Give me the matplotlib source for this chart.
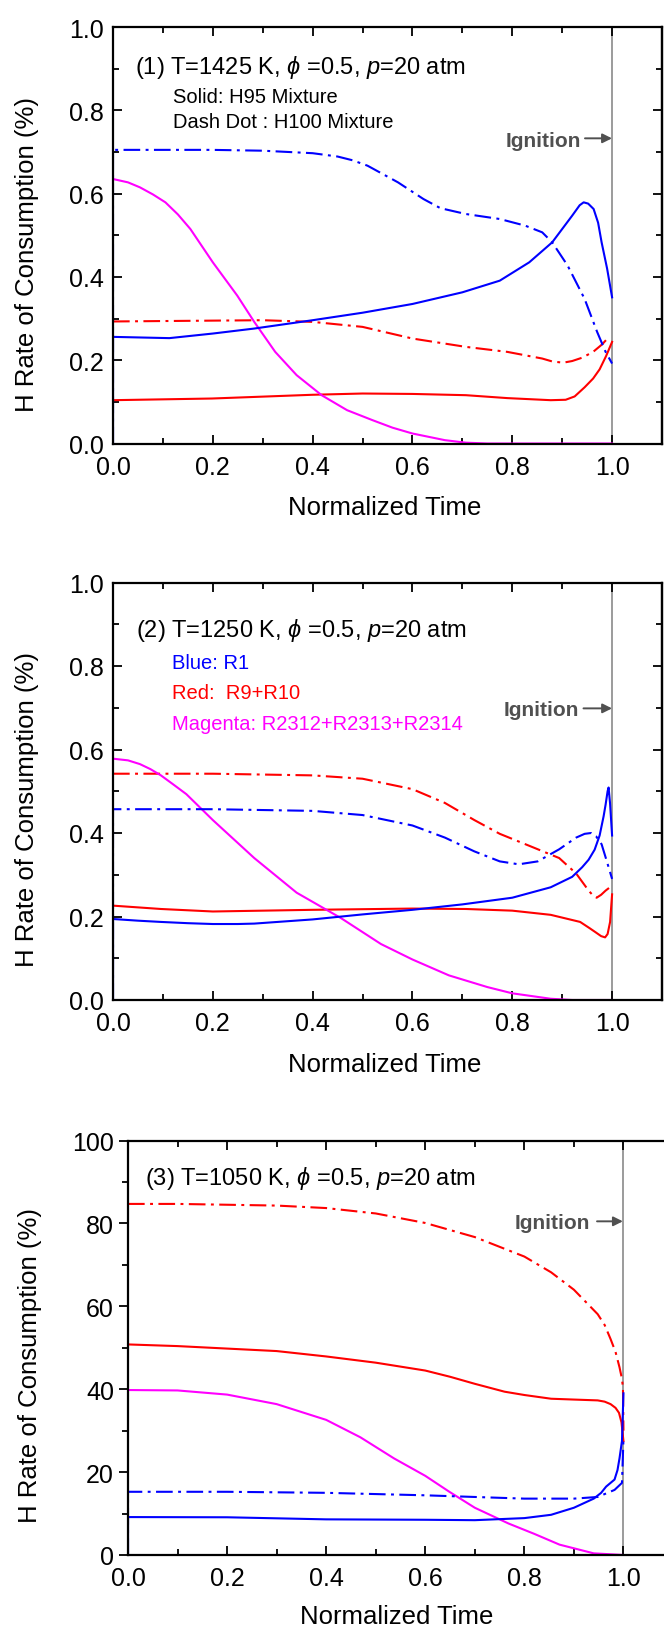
import matplotlib
matplotlib.use("Agg")
import matplotlib.pyplot as plt
from matplotlib.ticker import MultipleLocator

plt.rcParams['font.family'] = ['Liberation Sans', 'DejaVu Sans']
plt.rcParams['mathtext.fontset'] = 'custom'
plt.rcParams['mathtext.rm'] = 'Liberation Sans'
plt.rcParams['mathtext.it'] = 'Liberation Sans:italic'
plt.rcParams['mathtext.fallback'] = 'stix'

BLUE, RED, MAGENTA = '#0000ff', '#ff0000', '#ff00ff'
DASHDOT = (0, (8, 2.6, 1.4, 2.6))

# ---------------- panel 1 : T=1425 K ----------------
p1_blue_t = [0, 0, 0.113, 0.2, 0.283, 0.40, 0.50, 0.60, 0.70, 0.775, 0.834, 0.88, 0.90, 0.92, 0.935,
             0.943, 0.952, 0.963, 0.972, 0.979, 0.99, 1.0]
p1_blue_v = [0, 0.256, 0.253, 0.264, 0.276, 0.296, 0.314, 0.335, 0.363, 0.391, 0.435, 0.483, 0.515, 0.547, 0.572,
             0.579, 0.576, 0.563, 0.530, 0.483, 0.420, 0.351]
p1_blue_dd_t = [0, 0, 0.198, 0.30, 0.40, 0.45, 0.48, 0.51, 0.571, 0.622, 0.656, 0.707, 0.775, 0.826, 0.86,
                0.88, 0.911, 0.945, 0.97, 0.987, 1.0]
p1_blue_dd_v = [0, 0.705, 0.705, 0.703, 0.697, 0.689, 0.680, 0.667, 0.627, 0.587, 0.565, 0.551, 0.539, 0.523,
                0.507, 0.483, 0.427, 0.347, 0.268, 0.220, 0.192]
p1_red_t = [0, 0.198, 0.40, 0.50, 0.60, 0.707, 0.79, 0.877, 0.907, 0.925, 0.945, 0.962, 0.975, 0.988, 1.0]
p1_red_v = [0.104, 0.108, 0.117, 0.120, 0.119, 0.116, 0.109, 0.104, 0.105, 0.113, 0.135, 0.156, 0.178, 0.210, 0.244]
p1_red_dd_t = [0, 0.198, 0.30, 0.40, 0.50, 0.60, 0.707, 0.79, 0.86, 0.88, 0.902, 0.92, 0.94, 0.962, 0.98, 0.993]
p1_red_dd_v = [0.293, 0.295, 0.296, 0.292, 0.280, 0.252, 0.232, 0.220, 0.204, 0.197, 0.194, 0.198, 0.206, 0.220,
               0.238, 0.255]
p1_mag_t = [0, 0.03, 0.054, 0.08, 0.105, 0.13, 0.155, 0.20, 0.249, 0.283, 0.325, 0.368, 0.418, 0.469, 0.52,
            0.56, 0.60, 0.665, 0.707, 0.75, 1.0]
p1_mag_v = [0.635, 0.627, 0.615, 0.598, 0.579, 0.550, 0.515, 0.435, 0.355, 0.292, 0.220, 0.164, 0.116, 0.080,
            0.056, 0.038, 0.024, 0.008, 0.002, 0.0, 0.0]

# ---------------- panel 2 : T=1250 K ----------------
p2_blue_t = [0, 0, 0.05, 0.096, 0.15, 0.2, 0.25, 0.283, 0.40, 0.50, 0.60, 0.70, 0.80, 0.877, 0.92, 0.94, 0.953,
             0.965, 0.975, 0.983, 0.987, 0.991, 0.993, 0.996, 1.0]
p2_blue_v = [0, 0.194, 0.190, 0.187, 0.184, 0.182, 0.182, 0.183, 0.193, 0.205, 0.216, 0.229, 0.245, 0.270, 0.295,
             0.318, 0.336, 0.360, 0.394, 0.440, 0.468, 0.500, 0.509, 0.470, 0.394]
p2_blue_dd_t = [0, 0, 0.2, 0.40, 0.50, 0.60, 0.665, 0.724, 0.775, 0.813, 0.851, 0.894, 0.928, 0.945, 0.958,
                0.968, 0.979, 0.99, 1.0]
p2_blue_dd_v = [0, 0.457, 0.457, 0.453, 0.443, 0.418, 0.389, 0.356, 0.332, 0.325, 0.332, 0.361, 0.389, 0.398,
                0.400, 0.392, 0.373, 0.330, 0.290]
p2_red_t = [0, 0.096, 0.2, 0.40, 0.60, 0.707, 0.80, 0.877, 0.936, 0.955, 0.966, 0.978, 0.986, 0.991, 0.996, 1.0]
p2_red_v = [0.226, 0.218, 0.212, 0.216, 0.219, 0.218, 0.214, 0.204, 0.187, 0.172, 0.163, 0.153, 0.150, 0.158,
            0.187, 0.253]
p2_red_dd_t = [0, 0.2, 0.40, 0.50, 0.60, 0.665, 0.724, 0.775, 0.843, 0.894, 0.928, 0.953, 0.962, 0.969, 0.978,
               0.987, 1.0]
p2_red_dd_v = [0.542, 0.542, 0.538, 0.530, 0.505, 0.472, 0.431, 0.398, 0.365, 0.340, 0.303, 0.262, 0.250, 0.245,
               0.252, 0.262, 0.274]
p2_mag_t = [0, 0.03, 0.054, 0.075, 0.096, 0.12, 0.147, 0.2, 0.283, 0.368, 0.457, 0.537, 0.60, 0.673, 0.75, 0.80,
            0.877, 0.92, 1.0]
p2_mag_v = [0.578, 0.574, 0.565, 0.553, 0.538, 0.517, 0.493, 0.431, 0.340, 0.257, 0.196, 0.134, 0.097, 0.059,
            0.031, 0.016, 0.003, 0.0, 0.0]

# ---------------- panel 3 : T=1050 K ----------------
p3_blue_t = [0, 0, 0.2, 0.4, 0.6, 0.70, 0.80, 0.854, 0.90, 0.94, 0.955, 0.965, 0.975, 0.982, 0.988, 0.992,
             0.997, 1.0]
p3_blue_v = [0, 9.15, 9.1, 8.6, 8.5, 8.4, 8.9, 9.7, 11.4, 13.6, 15.0, 16.5, 17.5, 18.2, 20.5, 23.3, 27.5, 39.0]
p3_blue_dd_t = [0, 0, 0.2, 0.4, 0.6, 0.7, 0.8, 0.9, 0.948, 0.982, 0.997, 1.0]
p3_blue_dd_v = [0, 15.25, 15.25, 15.0, 14.4, 14.0, 13.6, 13.6, 14.0, 15.7, 17.4, 28.0]
p3_red_t = [0, 0.1, 0.2, 0.3, 0.4, 0.5, 0.6, 0.65, 0.70, 0.76, 0.80, 0.854, 0.90, 0.948, 0.962, 0.974, 0.984,
            0.991, 0.996, 1.0]
p3_red_v = [50.8, 50.4, 49.8, 49.2, 47.9, 46.4, 44.5, 43.0, 41.3, 39.4, 38.6, 37.7, 37.5, 37.3, 37.0, 36.4, 35.5,
            34.3, 32.0, 27.5]
p3_red_dd_t = [0, 0.1, 0.2, 0.3, 0.4, 0.5, 0.6, 0.70, 0.80, 0.854, 0.90, 0.948, 0.962, 0.974, 0.984, 0.992,
               0.997, 0.999, 1.0]
p3_red_dd_v = [84.7, 84.7, 84.5, 84.3, 83.7, 82.4, 80.1, 76.7, 72.0, 68.2, 64.0, 58.1, 55.5, 52.1, 49.0, 45.3,
               42.5, 40.3, 30.0]
p3_mag_t = [0, 0.1, 0.2, 0.3, 0.4, 0.469, 0.537, 0.60, 0.648, 0.70, 0.768, 0.82, 0.871, 0.94, 1.0]
p3_mag_v = [39.8, 39.7, 38.7, 36.4, 32.6, 28.4, 23.3, 19.1, 15.3, 11.4, 7.6, 5.1, 2.5, 0.4, 0.0]

titles = [r'(1) T=1425 K, $\phi$ =0.5, $p$=20 atm',
          r'(2) T=1250 K, $\phi$ =0.5, $p$=20 atm',
          r'(3) T=1050 K, $\phi$ =0.5, $p$=20 atm']

W, H = 664, 1631
fig = plt.figure(figsize=(W / 100, H / 100), dpi=100)


def px_axes(left, top, right, bottom):
    return fig.add_axes([left / W, 1 - bottom / H, (right - left) / W, (bottom - top) / H])


def style_axes(ax, ymax, ymajor, yminor, yticks_out=False):
    ax.set_xlim(0, 1.1)
    ax.set_ylim(0, ymax)
    ax.xaxis.set_minor_locator(MultipleLocator(0.1))
    ax.yaxis.set_major_locator(MultipleLocator(ymajor))
    ax.yaxis.set_minor_locator(MultipleLocator(yminor))
    ax.set_xticks([0, 0.2, 0.4, 0.6, 0.8, 1.0])
    ax.set_xticklabels(['0.0', '0.2', '0.4', '0.6', '0.8', '1.0'])
    for s in ax.spines.values():
        s.set_linewidth(1.6)
    ax.tick_params(axis='x', which='both', direction='in', top=True, bottom=True,
                   labelsize=18, pad=8, width=1.3)
    ax.tick_params(axis='y', which='both', direction='out' if yticks_out else 'in',
                   left=True, right=False, labelsize=18, pad=3.5 if yticks_out else 6.5, width=1.3)
    ax.tick_params(which='major', length=6.5)
    ax.tick_params(which='minor', length=4)
    # right side ticks always point inward
    ax2 = ax.secondary_yaxis('right')
    ax2.yaxis.set_major_locator(MultipleLocator(ymajor))
    ax2.yaxis.set_minor_locator(MultipleLocator(yminor))
    ax2.tick_params(which='both', direction='in', labelright=False, width=1.3)
    ax2.tick_params(which='major', length=6.5)
    ax2.tick_params(which='minor', length=4)
    ax2.spines['right'].set_linewidth(1.6)
    ax.axvline(1.0, color='#808080', lw=1.1, zorder=1)


def draw_lines(ax, red, red_dd, mag, blue, blue_dd):
    lw = 1.5
    ax.plot(red[0], red[1], color=RED, lw=lw)
    ax.plot(red_dd[0], red_dd[1], color=RED, lw=lw, linestyle=DASHDOT)
    ax.plot(mag[0], mag[1], color=MAGENTA, lw=lw)
    ax.plot(blue_dd[0], blue_dd[1], color=BLUE, lw=lw, linestyle=DASHDOT)
    ax.plot(blue[0], blue[1], color=BLUE, lw=lw)


def ignition(ax, tx, ty, ay, x0, x1):
    ax.text(tx, ty, 'Ignition', transform=ax.transAxes, ha='right', va='baseline',
            fontsize=15, fontweight='bold', color='#505050')
    ax.annotate('', xy=(x1, ay), xytext=(x0, ay), xycoords='axes fraction',
                arrowprops=dict(arrowstyle='-|>', color='#505050', lw=1.4, mutation_scale=14,
                                shrinkA=0, shrinkB=0))


# panel 1
ax1 = px_axes(113, 28, 662, 444.5)
style_axes(ax1, 1.0, 0.2, 0.1)
draw_lines(ax1, (p1_red_t, p1_red_v), (p1_red_dd_t, p1_red_dd_v), (p1_mag_t, p1_mag_v),
           (p1_blue_t, p1_blue_v), (p1_blue_dd_t, p1_blue_dd_v))
ax1.text(0.0395, 0.8896, titles[0], transform=ax1.transAxes, fontsize=17, va='baseline')
ax1.text(0.1089, 0.8192, 'Solid: H95 Mixture', transform=ax1.transAxes, fontsize=14.5, va='baseline')
ax1.text(0.1089, 0.7592, 'Dash Dot : H100 Mixture', transform=ax1.transAxes, fontsize=14.5, va='baseline')
ignition(ax1, 0.8525, 0.715, 0.7327, 0.8597, 0.9089)

# panel 2
ax2 = px_axes(113, 583.5, 662, 1001)
style_axes(ax2, 1.0, 0.2, 0.1)
draw_lines(ax2, (p2_red_t, p2_red_v), (p2_red_dd_t, p2_red_dd_v), (p2_mag_t, p2_mag_v),
           (p2_blue_t, p2_blue_v), (p2_blue_dd_t, p2_blue_dd_v))
ax2.text(0.0426, 0.8716, titles[1], transform=ax2.transAxes, fontsize=17, va='baseline')
ax2.text(0.1066, 0.7957, 'Blue: R1', transform=ax2.transAxes, fontsize=14.5, va='baseline', color=BLUE)
ax2.text(0.1066, 0.7234, 'Red:  R9+R10', transform=ax2.transAxes, fontsize=14.5, va='baseline', color=RED)
ax2.text(0.1066, 0.6490, 'Magenta: R2312+R2313+R2314', transform=ax2.transAxes, fontsize=14.5,
         va='baseline', color=MAGENTA)
ignition(ax2, 0.8488, 0.682, 0.6985, 0.857, 0.909)

# panel 3
ax3 = px_axes(128, 1141.5, 673, 1556)
style_axes(ax3, 100, 20, 10, yticks_out=True)
draw_lines(ax3, (p3_red_t, p3_red_v), (p3_red_dd_t, p3_red_dd_v), (p3_mag_t, p3_mag_v),
           (p3_blue_t, p3_blue_v), (p3_blue_dd_t, p3_blue_dd_v))
ax3.text(0.031, 0.8958, titles[2], transform=ax3.transAxes, fontsize=17, va='baseline')
ignition(ax3, 0.847, 0.788, 0.805, 0.8606, 0.908)

# axis titles
ylab = 'H Rate of Consumption (%)'
for (xc, yc) in [(27.5, 254.5), (27.5, 810), (30, 1365.5)]:
    fig.text(xc / W, 1 - yc / H, ylab, rotation=90, ha='center', va='center', fontsize=18.5)
for (xc, yc) in [(384.5, 508), (384.5, 1065), (396.5, 1617)]:
    fig.text(xc / W, 1 - yc / H, 'Normalized Time', ha='center', va='center', fontsize=18.5)

fig.savefig('out.png', dpi=100)
